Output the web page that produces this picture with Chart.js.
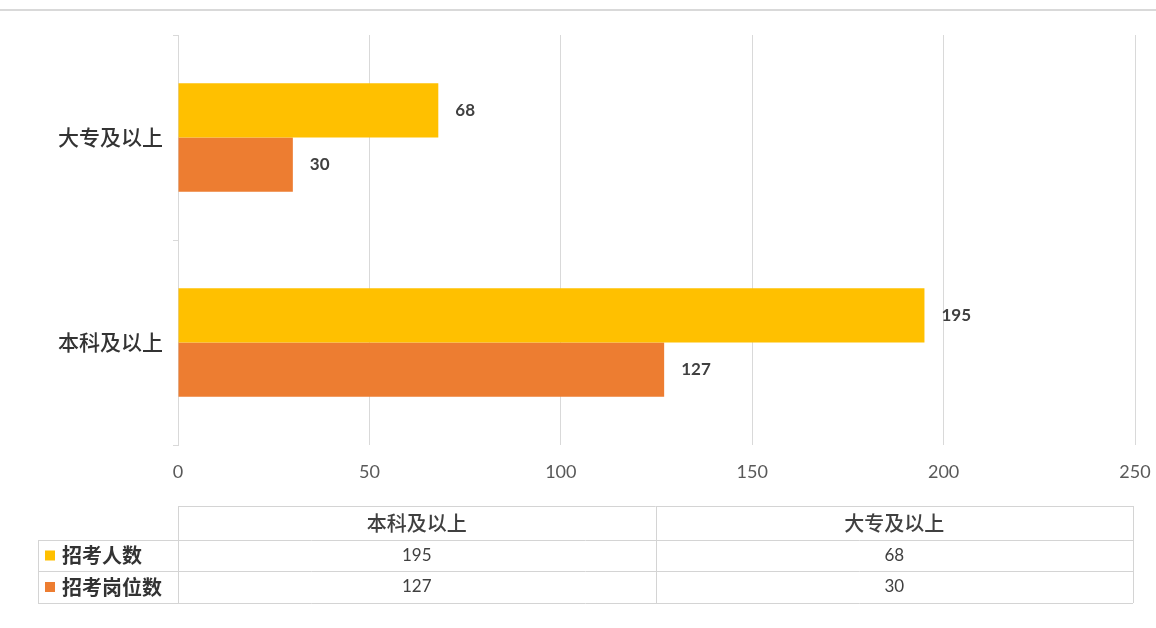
<!DOCTYPE html>
<html>
<head>
<meta charset="utf-8">
<script src="https://cdn.jsdelivr.net/npm/chart.js@4.4.1/dist/chart.umd.min.js"></script>
<style>
  html, body { margin: 0; padding: 0; background: #fff; }
  #wrap { width: 1156px; height: 628px; position: relative; }
</style>
</head>
<body>
<div id="wrap"><canvas id="c"></canvas></div>
<script>
// data
var categories = ['本科及以上', '大专及以上'];
var seriesNames = ['招考人数', '招考岗位数'];
var applicants = [195, 68];   // 招考人数
var posts = [127, 30];        // 招考岗位数
var xTicks = [0, 50, 100, 150, 200, 250];
var seriesColors = ['#FFC000', '#ED7D31'];

var cjk = '"Noto Sans CJK SC", sans-serif';
var num = 'Lato, "Noto Sans", sans-serif';

// value labels at bar ends
var barLabels = {
    id: 'barLabels',
    afterDatasetsDraw: function(chart) {
        var ctx = chart.ctx;
        ctx.save();
        ctx.font = 'bold 17px ' + num;
        ctx.fillStyle = '#404040';
        ctx.textAlign = 'left';
        ctx.textBaseline = 'middle';
        chart.data.datasets.forEach(function(ds, i) {
            chart.getDatasetMeta(i).data.forEach(function(bar, j) {
                ctx.fillText(String(ds.data[j]), bar.x + 17, bar.y);
            });
        });
        ctx.restore();
    }
};

// data table under the axis + thin line at the top
var dataTable = {
    id: 'dataTable',
    afterDraw: function(chart) {
        var ctx = chart.ctx;
        var xs = chart.scales.x;
        var left = xs.left, right = xs.right - 2;
        var legendLeft = 38;
        var rows = [506, 540, 571, 603];
        var colW = (right - left) / categories.length;
        ctx.save();

        // top line
        ctx.strokeStyle = '#d9d9d9';
        ctx.lineWidth = 2;
        ctx.beginPath();
        ctx.moveTo(0, 10);
        ctx.lineTo(1156, 10);
        ctx.stroke();

        ctx.lineWidth = 1;
        ctx.strokeStyle = '#d4d4d4';
        ctx.beginPath();
        // header row
        ctx.moveTo(left, rows[0] + 0.5); ctx.lineTo(right, rows[0] + 0.5);
        for (var r = 1; r < rows.length; r++) {
            ctx.moveTo(legendLeft, rows[r] + 0.5); ctx.lineTo(right, rows[r] + 0.5);
        }
        // verticals
        ctx.moveTo(legendLeft + 0.5, rows[1]); ctx.lineTo(legendLeft + 0.5, rows[3]);
        for (var c = 0; c <= categories.length; c++) {
            var x = Math.round(left + c * colW) + 0.5;
            ctx.moveTo(x, rows[0]); ctx.lineTo(x, rows[3]);
        }
        ctx.stroke();

        ctx.textAlign = 'center';
        ctx.textBaseline = 'middle';
        ctx.fillStyle = '#404040';
        ctx.font = '500 20px ' + cjk;
        categories.forEach(function(cat, i) {
            ctx.fillText(cat, left + (i + 0.5) * colW, (rows[0] + rows[1]) / 2);
        });
        ctx.font = '17px ' + num;
        chart.data.datasets.forEach(function(ds, r) {
            var yc = (rows[r + 1] + rows[r + 2]) / 2;
            ds.data.forEach(function(v, i) {
                ctx.fillText(String(v), left + (i + 0.5) * colW, yc);
            });
            // legend key
            ctx.fillStyle = ds.backgroundColor;
            ctx.fillRect(45, yc - 5, 10, 10);
            ctx.fillStyle = '#333333';
            ctx.textAlign = 'left';
            ctx.font = 'bold 20px ' + cjk;
            ctx.fillText(ds.label, 62, yc);
            ctx.textAlign = 'center';
            ctx.fillStyle = '#404040';
            ctx.font = '17px ' + num;
        });
        ctx.restore();
    }
};

new Chart(document.getElementById('c'), {
    type: 'bar',
    data: {
        labels: categories,
        datasets: [
            { label: seriesNames[0], data: applicants, backgroundColor: seriesColors[0] },
            { label: seriesNames[1], data: posts, backgroundColor: seriesColors[1] }
        ]
    },
    options: {
        indexAxis: 'y',
        responsive: true,
        maintainAspectRatio: false,
        animation: false,
        categoryPercentage: 0.53,
        barPercentage: 1.0,
        layout: { padding: { top: 35, right: 21, bottom: 143, left: 0 } },
        plugins: {
            legend: { display: false },
            tooltip: { enabled: false }
        },
        scales: {
            x: {
                min: 0,
                max: 250,
                afterBuildTicks: function(scale) {
                    scale.ticks = xTicks.map(function(v) { return { value: v }; });
                },
                afterFit: function(scale) {
                    scale.height = 40;
                    scale.paddingLeft = 0;
                    scale.paddingRight = 0;
                },
                grid: { color: '#d9d9d9', drawTicks: false },
                border: { display: false },
                ticks: {
                    padding: 16,
                    color: '#595959',
                    font: { family: num, size: 18 }
                }
            },
            y: {
                reverse: true,
                afterFit: function(scale) { scale.width = 178; },
                grid: { drawOnChartArea: false, drawTicks: true, tickLength: 5, color: '#d9d9d9', offset: true },
                border: { display: true, color: '#d9d9d9' },
                ticks: {
                    padding: 10,
                    color: '#333333',
                    font: { family: cjk, size: 21, weight: '500' }
                }
            }
        }
    },
    plugins: [barLabels, dataTable]
});
</script>
</body>
</html>
